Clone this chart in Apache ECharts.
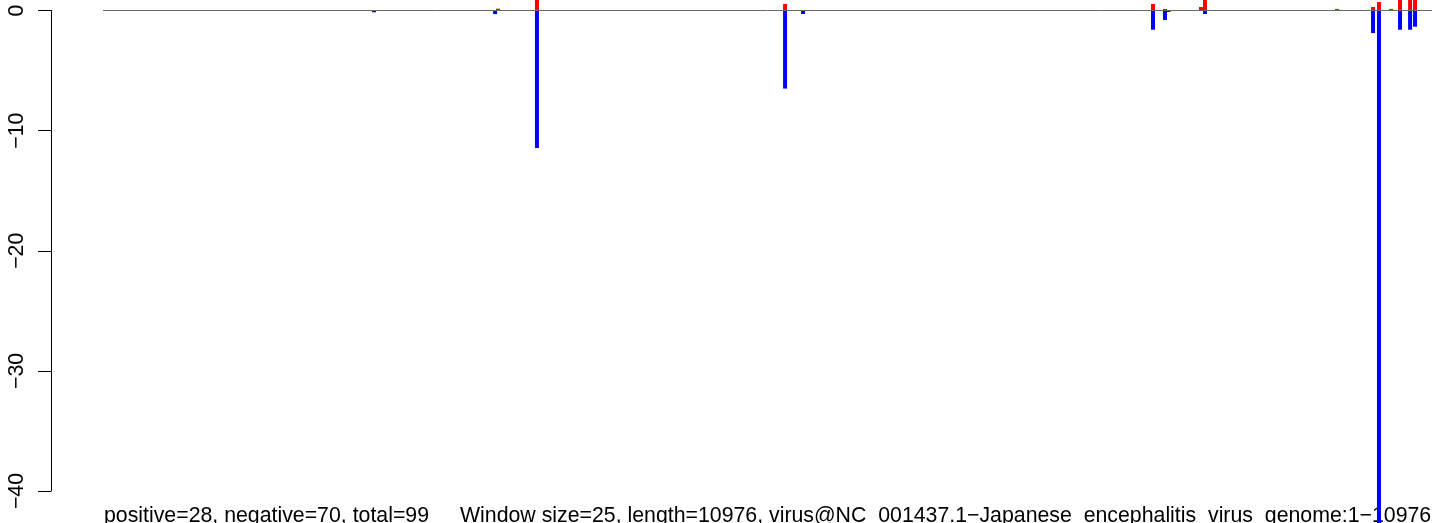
<!DOCTYPE html>
<html>
<head>
<meta charset="utf-8">
<script src="https://cdn.jsdelivr.net/npm/echarts@6/dist/echarts.min.js"></script>
<style>
  html, body { margin: 0; padding: 0; background: #fff; }
  #chart { width: 1444px; height: 523px; }
</style>
</head>
<body>
<div id="chart"></div>
<script>
  // genome position (bp) of each window that has a score
  var redPos = [3262, 3584, 5633, 8672, 8771, 9068, 9101, 10192, 10489, 10538, 10638, 10712, 10795, 10836];
  var redVal = [0.15, 1.5, 0.54, 0.54, 0.13, 0.29, 1.5, 0.13, 0.29, 0.71, 0.13, 1.5, 1.5, 1.5];
  var bluePos = [2238, 3238, 3584, 5633, 5781, 8672, 8771, 8800, 9101, 10489, 10538, 10712, 10795, 10836];
  var blueVal = [-0.15, -0.3, -11.45, -6.5, -0.29, -1.6, -0.79, -0.12, -0.29, -1.88, -45, -1.6, -1.6, -1.35];
  var yTicks = [0, -10, -20, -30, -40];
  var genomeLength = 10976;
  var leftNote = 'positive=28, negative=70, total=99';
  var rightNote = 'Window size=25, length=10976, virus@NC_001437.1\u2212Japanese_encephalitis_virus_genome:1\u221210976';

  function pairs(xs, ys) {
    return xs.map(function (x, i) { return [x, ys[i]]; });
  }

  var font = '"Liberation Sans", Arial, sans-serif';
  var gridTop = 10.5, gridBottom = 32, chartHeight = 523, axisX = 51;
  var yRange = { type: 'value', min: -40, max: 0, interval: 10, splitLine: { show: false } };
  var hiddenParts = {
    splitLine: { show: false }, axisTick: { show: false },
    axisLabel: { show: false }, axisLine: { show: false }
  };

  var chart = echarts.init(document.getElementById('chart'));
  chart.setOption({
    animation: false,
    backgroundColor: '#fff',
    grid: [
      { left: 103, right: 12, top: gridTop, bottom: gridBottom },
      // narrow grid that only carries the R-style y axis
      { left: axisX, width: 1, top: gridTop, bottom: gridBottom }
    ],
    xAxis: [
      Object.assign({ type: 'value', gridIndex: 0, min: 0, max: genomeLength }, hiddenParts),
      Object.assign({ type: 'category', gridIndex: 1, data: [''] }, hiddenParts)
    ],
    yAxis: [
      Object.assign({ gridIndex: 0, show: false }, yRange),
      Object.assign({
        gridIndex: 1,
        axisLine: { show: true, lineStyle: { color: '#000', width: 1 } },
        axisTick: { show: true, length: 13, lineStyle: { color: '#000' } },
        axisLabel: {
          rotate: 90,
          margin: 23,
          fontFamily: font,
          fontSize: 21.3,
          color: '#000',
          formatter: function (v) {
            return yTicks.indexOf(v) >= 0 ? String(v).replace('-', '\u2212') : '';
          }
        }
      }, yRange)
    ],
    series: [
      {
        type: 'bar',
        name: 'positive',
        data: pairs(redPos, redVal),
        barWidth: 4,
        barGap: '-100%',
        clip: false,
        itemStyle: { color: '#ff0000' },
        markLine: {
          silent: true,
          symbol: 'none',
          label: { show: false },
          lineStyle: { color: '#6b6b6b', width: 1, type: 'solid' },
          data: [[{ coord: [0, 0] }, { coord: [genomeLength, 0] }]]
        }
      },
      {
        type: 'bar',
        name: 'negative',
        data: pairs(bluePos, blueVal),
        barWidth: 4,
        barGap: '-100%',
        clip: false,
        itemStyle: { color: '#0000ff' }
      }
    ],
    graphic: [
      {
        // y axis spine over the grid height (0 .. -40)
        type: 'rect',
        z: 100,
        shape: { x: axisX, y: gridTop, width: 1, height: chartHeight - gridBottom - gridTop },
        style: { fill: '#000' }
      },
      {
        type: 'text',
        left: 104,
        top: 506,
        style: { text: leftNote, font: '21.3px ' + font, fill: '#000' }
      },
      {
        type: 'text',
        left: 460,
        top: 506,
        style: { text: rightNote, font: '21.3px ' + font, fill: '#000' }
      }
    ]
  });
</script>
</body>
</html>
